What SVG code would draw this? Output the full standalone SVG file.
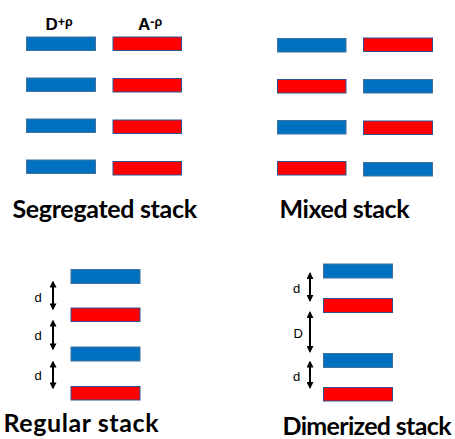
<svg xmlns="http://www.w3.org/2000/svg" width="455" height="439" viewBox="0 0 455 439">
<style>
.b{fill:#0070C0;stroke:#41719C;stroke-width:1}
.r{fill:#FF0000;stroke:#2F528F;stroke-width:1}
.t{font-family:Lato,"Liberation Sans",sans-serif;font-weight:700;font-size:25px;fill:#000}
.h{font-family:"Liberation Sans",Arial,sans-serif;font-weight:700;font-size:17px;fill:#000}
.l{font-family:"Liberation Sans",Arial,sans-serif;font-size:13px;fill:#000}
.a{stroke:#000;stroke-width:2;fill:none;marker-start:url(#ah);marker-end:url(#ah)}
</style>
<defs>
<marker id="ah" markerUnits="userSpaceOnUse" viewBox="0 0 10 10" refX="8" refY="5" markerWidth="7" markerHeight="7" orient="auto-start-reverse">
<path d="M0,0 L10,5 L0,10 Z" fill="#000"/>
</marker>
</defs>
<rect width="455" height="439" fill="#fff"/>

<g id="segregated">
<text class="h" x="45.5" y="30">D<tspan font-size="12.5" dy="-4">+ρ</tspan></text>
<text class="h" x="138" y="30">A<tspan font-size="12.5" dy="-4">-ρ</tspan></text>
<rect class="b" x="26.5" y="37" width="69" height="13.5"/>
<rect class="b" x="26.5" y="78" width="69" height="13.5"/>
<rect class="b" x="26.5" y="119" width="69" height="13.5"/>
<rect class="b" x="26.5" y="160" width="69" height="13.5"/>
<rect class="r" x="113" y="37" width="68.5" height="13.5"/>
<rect class="r" x="113" y="78.5" width="68.5" height="13.5"/>
<rect class="r" x="113" y="120" width="68.5" height="13.5"/>
<rect class="r" x="113" y="161.5" width="68.5" height="13.5"/>
<text class="t" x="12.5" y="218" textLength="184.5">Segregated stack</text>
</g>

<g id="mixed">
<rect class="b" x="277.5" y="38.5" width="68.5" height="13.5"/>
<rect class="r" x="277.5" y="79.5" width="68.5" height="13.5"/>
<rect class="b" x="277.5" y="120.5" width="68.5" height="13.5"/>
<rect class="r" x="277.5" y="161.5" width="68.5" height="13.5"/>
<rect class="r" x="363.5" y="38" width="69" height="13.5"/>
<rect class="b" x="363.5" y="79.5" width="69" height="13.5"/>
<rect class="r" x="363.5" y="121" width="69" height="13.5"/>
<rect class="b" x="363.5" y="162.5" width="69" height="13.5"/>
<text class="t" x="279.5" y="218" textLength="130">Mixed stack</text>
</g>

<g id="regular">
<rect class="b" x="71" y="269.5" width="69" height="14"/>
<rect class="r" x="71" y="308" width="69" height="13.5"/>
<rect class="b" x="71" y="347" width="69" height="14"/>
<rect class="r" x="71" y="386.5" width="69" height="13.5"/>
<text class="l" x="34.5" y="302">d</text>
<text class="l" x="34.5" y="340">d</text>
<text class="l" x="34.5" y="380">d</text>
<text class="t" x="3.5" y="432" textLength="155">Regular stack</text>
</g>

<g id="dimerized">
<rect class="b" x="323.5" y="264" width="69" height="14"/>
<rect class="r" x="323.5" y="298.5" width="69" height="14"/>
<rect class="b" x="323.5" y="353.5" width="69" height="14"/>
<rect class="r" x="323.5" y="387.5" width="69" height="13.5"/>
<text class="l" x="293" y="292.5">d</text>
<text class="l" x="293.5" y="338">D</text>
<text class="l" x="293" y="380.5">d</text>
<text class="t" x="282.5" y="435" textLength="169">Dimerized stack</text>
</g>

<g id="connectors">
<line class="a" x1="53" y1="282" x2="53" y2="309"/>
<line class="a" x1="53" y1="321" x2="53" y2="349"/>
<line class="a" x1="53" y1="362" x2="53" y2="388"/>
<line class="a" x1="310" y1="273.5" x2="310" y2="300.5"/>
<line class="a" x1="310" y1="312.5" x2="310" y2="351.5"/>
<line class="a" x1="310" y1="362" x2="310" y2="387.5"/>
</g>
</svg>
